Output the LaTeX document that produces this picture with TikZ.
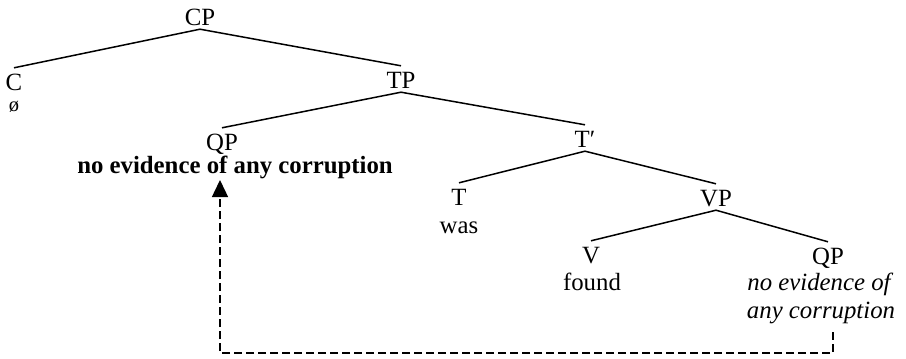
\documentclass[tikz,border=0pt]{standalone}
\usepackage{fontspec}
\setmainfont{Liberation Serif}
\usetikzlibrary{arrows.meta}
\begin{document}
\begin{tikzpicture}[x=1pt,y=-1pt,
  every node/.style={font=\fontsize{24.8}{30}\selectfont, text=black},
  cat/.style={anchor=base, text height=18pt, text depth=0pt, inner xsep=2pt, inner ysep=4pt},
  leafcat/.style={cat, text height=20pt, inner ysep=2pt},
  word/.style={anchor=base, inner sep=0pt},
  branch/.style={line width=1.5pt, draw=black},
  move/.style={line width=1.4pt, draw=black, dash pattern=on 8pt off 4pt,
    -{Triangle[length=17pt,width=16pt]}}
]
\useasboundingbox (0,0) rectangle (906,359);
% categories
\node[cat] (CP) at (200,25) {CP};
\node[leafcat] (C) at (14,90) {C};
\node[cat] (TP) at (401,88) {TP};
\node[leafcat] (QP1) at (222,150) {QP};
\node[cat] (Tbar) at (585,147) {T′};
\node[leafcat] (T) at (459,205) {T};
\node[cat] (VP) at (716,206) {VP};
\node[leafcat] (V) at (591,263) {V};
\node[leafcat] (QP2) at (828,264) {QP};
% words
\node[word, font=\fontsize{20.5}{22}\selectfont] (null) at (14,111) {ø};
\node[word, font=\fontsize{24.8}{30}\selectfont\bfseries] (moved) at (235,173) {no evidence of any corruption};
\node[word] (was) at (459,233) {was};
\node[word] (found) at (592,290) {found};
\node[word, font=\fontsize{24.8}{30}\selectfont\itshape] (orig1) at (819,290) {no evidence of};
\node[word, font=\fontsize{24.8}{30}\selectfont\itshape] (orig2) at (821,318) {any corruption};
% branches
\draw[branch] (CP.south) -- (C.north);
\draw[branch] (CP.south) -- (TP.north);
\draw[branch] (TP.south) -- (QP1.north);
\draw[branch] (TP.south) -- (Tbar.north);
\draw[branch] (Tbar.south) -- (T.north);
\draw[branch] (Tbar.south) -- (VP.north);
\draw[branch] (VP.south) -- (V.north);
\draw[branch] (VP.south) -- (QP2.north);
% movement
\coordinate (mvstart) at (833,332);
\coordinate (mvend) at (220,180);
\draw[move] (mvstart) -- ++(0,21) -| (mvend);
\end{tikzpicture}
\end{document}
